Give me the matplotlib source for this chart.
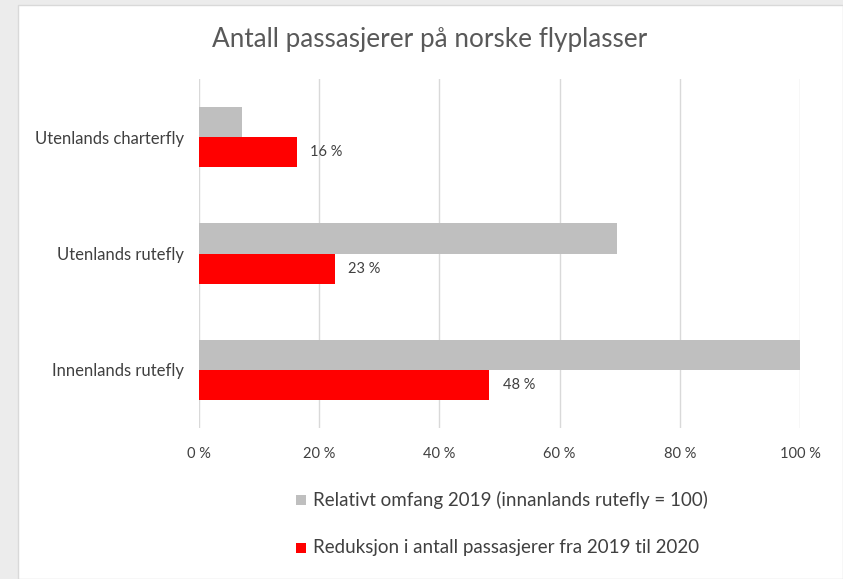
import matplotlib
matplotlib.use("Agg")
import matplotlib.pyplot as plt
from matplotlib.patches import Rectangle

categories = ["Utenlands charterfly", "Utenlands rutefly", "Innenlands rutefly"]
relativt_2019 = [7.2, 69.5, 100.0]
reduksjon = [16.3, 22.6, 48.3]
reduksjon_labels = ["16 %", "23 %", "48 %"]
xticks = [0, 20, 40, 60, 80, 100]
xtick_labels = ["0 %", "20 %", "40 %", "60 %", "80 %", "100 %"]
series_names = ["Relativt omfang 2019 (innanlands rutefly = 100)",
                "Reduksjon i antall passasjerer fra 2019 til 2020"]
title = "Antall passasjerer på norske flyplasser"

W, H = 843, 579
fig = plt.figure(figsize=(W / 100, H / 100), dpi=100)
fig.patch.set_facecolor("#ececec")
# white chart panel
fig.patches.append(Rectangle((18 / W, 0), 1 - 18 / W, 1 - 5 / H, transform=fig.transFigure,
                             facecolor="white", edgecolor="#d9d9d9", linewidth=1.0, zorder=-5))

font = ["Lato", "DejaVu Sans"]
txt = "#404040"

ax = fig.add_axes([199 / W, 1 - 428 / H, (800 - 199) / W, (428 - 79) / H], zorder=2)
ax.set_facecolor("none")
n = len(categories)
ys = list(range(n))
bh = 0.258
gray_y = [y - bh / 2 for y in ys]
red_y = [y + bh / 2 for y in ys]
ax.barh(gray_y, relativt_2019, height=bh, color="#bfbfbf", zorder=3, label=series_names[0])
bars = ax.barh(red_y, reduksjon, height=bh, color="#ff0000", zorder=3, label=series_names[1])
for b, lab in zip(bars, reduksjon_labels):
    ax.text(b.get_width() + 2.2, b.get_y() + b.get_height() / 2, lab, va="center", ha="left",
            fontsize=10.5, color=txt, family=font)

ax.set_ylim(n - 0.5, -0.5)
ax.set_xlim(0, 100)
ax.set_yticks(ys)
ax.set_yticklabels(categories, family=font, fontsize=12, color=txt)
ax.set_xticks(xticks)
ax.set_xticklabels(xtick_labels, family=font, fontsize=10.5, color=txt)
ax.tick_params(axis="x", length=0, pad=14)
ax.tick_params(axis="y", length=0, pad=11)
ax.grid(axis="x", color="#d9d9d9", linewidth=1.0, zorder=0)
for s in ax.spines.values():
    s.set_visible(False)

fig.text(430 / W, 1 - 40 / H, title, ha="center", va="center", fontsize=18.8,
         color="#595959", family=font)

# legend
for i, (name, col) in enumerate(zip(series_names, ["#bfbfbf", "#ff0000"])):
    yc = 500 + i * 48
    fig.patches.append(Rectangle((296 / W, 1 - (yc + 5) / H), 10 / W, 10 / H,
                                 transform=fig.transFigure, facecolor=col, edgecolor="none"))
    fig.text(313 / W, 1 - yc / H, name, ha="left", va="center", fontsize=13.5,
             color=txt, family=font)

fig.savefig("out.png", dpi=100, facecolor=fig.get_facecolor())
